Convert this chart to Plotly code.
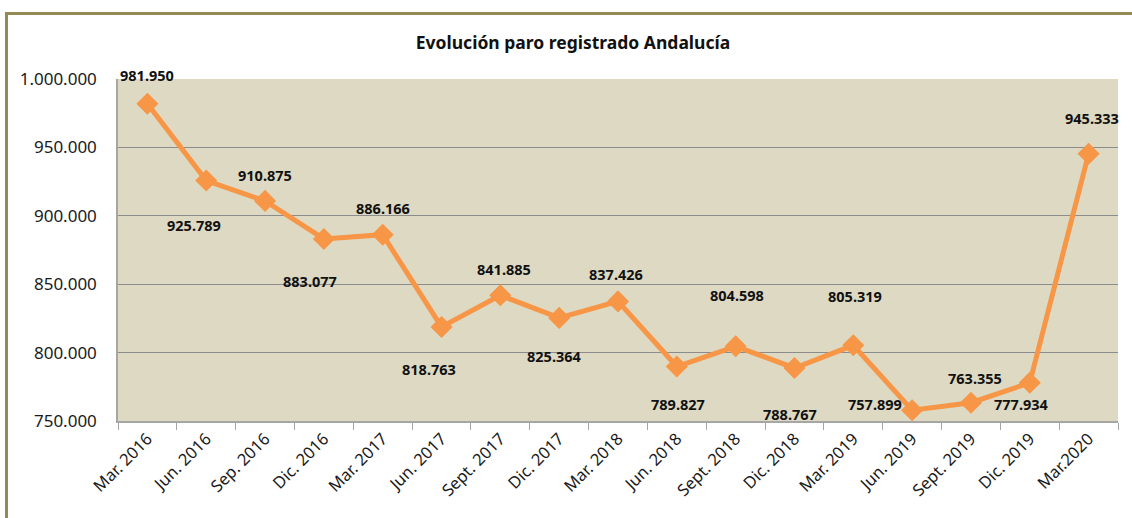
import plotly.graph_objects as go

categories = ["Mar. 2016", "Jun. 2016", "Sep. 2016", "Dic. 2016", "Mar. 2017", "Jun. 2017",
              "Sept. 2017", "Dic. 2017", "Mar. 2018", "Jun. 2018", "Sept. 2018", "Dic. 2018",
              "Mar. 2019", "Jun. 2019", "Sept. 2019", "Dic. 2019", "Mar.2020"]
values = [981950, 925789, 910875, 883077, 886166, 818763, 841885, 825364, 837426,
          789827, 804598, 788767, 805319, 757899, 763355, 777934, 945333]
y_ticks = [750000, 800000, 850000, 900000, 950000, 1000000]

# label offsets (pixels) relative to each point
label_dx = [0, -12, 0, -14, 0, -13, 4, -5, -2, 1, 1, -4, 2, -37, 4, -8, 3]
label_dy = [-29, 44, -26, 42, -27, 42, -26, 38, -27, 37, -51, 46, -49, -6, -25, 21, -36]

def fmt(v):
    return f"{v:,}".replace(",", ".")

fig = go.Figure()
fig.add_trace(go.Scatter(
    x=categories, y=values, mode="lines+markers",
    line=dict(color="#F79646", width=5),
    marker=dict(symbol="diamond", size=17, color="#F79646"),
    hoverinfo="skip", showlegend=False, cliponaxis=False,
))

for c, v, dx, dy in zip(categories, values, label_dx, label_dy):
    fig.add_annotation(x=c, y=v, text=fmt(v), showarrow=False,
                       xshift=dx, yshift=-dy,
                       font=dict(family="Noto Sans", size=14.5, color="#111111", weight="bold"))

fig.add_shape(type="rect", xref="paper", yref="paper",
              x0=-0.1115, x1=1.2, y0=-0.6, y1=1.1915,
              line=dict(color="#948A54", width=3), layer="below")

fig.update_layout(
    width=1132, height=518,
    margin=dict(l=118, r=14, t=79, b=97, autoexpand=False),
    paper_bgcolor="white", plot_bgcolor="#DDD9C3",
    separators=",.",
    title=dict(text="<b>Evolución paro registrado Andalucía</b>", x=573/1132, xanchor="center",
               y=1 - 43/518, yanchor="middle",
               font=dict(family="Noto Sans", size=17.5, color="#111111")),
    xaxis=dict(type="category", range=[-0.5, len(categories) - 0.5],
               tickson="boundaries", ticks="outside", ticklen=7,
               tickcolor="#A6A6A6", showline=True, linecolor="#A6A6A6", linewidth=1.5,
               showgrid=False, tickangle=-45, automargin=False,
               tickfont=dict(family="Noto Sans", size=16.5, color="#1a1a1a")),
    yaxis=dict(range=[750000, 1000000], tickvals=y_ticks, tickformat=",d",
               showgrid=True, gridcolor="#8C8C8C", gridwidth=1,
               showline=True, linecolor="#A6A6A6", linewidth=1.5, automargin=False,
               zeroline=False, ticks="", ticklabelstandoff=16,
               tickfont=dict(family="Noto Sans", size=17, color="#1a1a1a")),
)

fig.write_html("out.html", config={"displayModeBar": False},
               post_script="document.body.style.margin='0';")
